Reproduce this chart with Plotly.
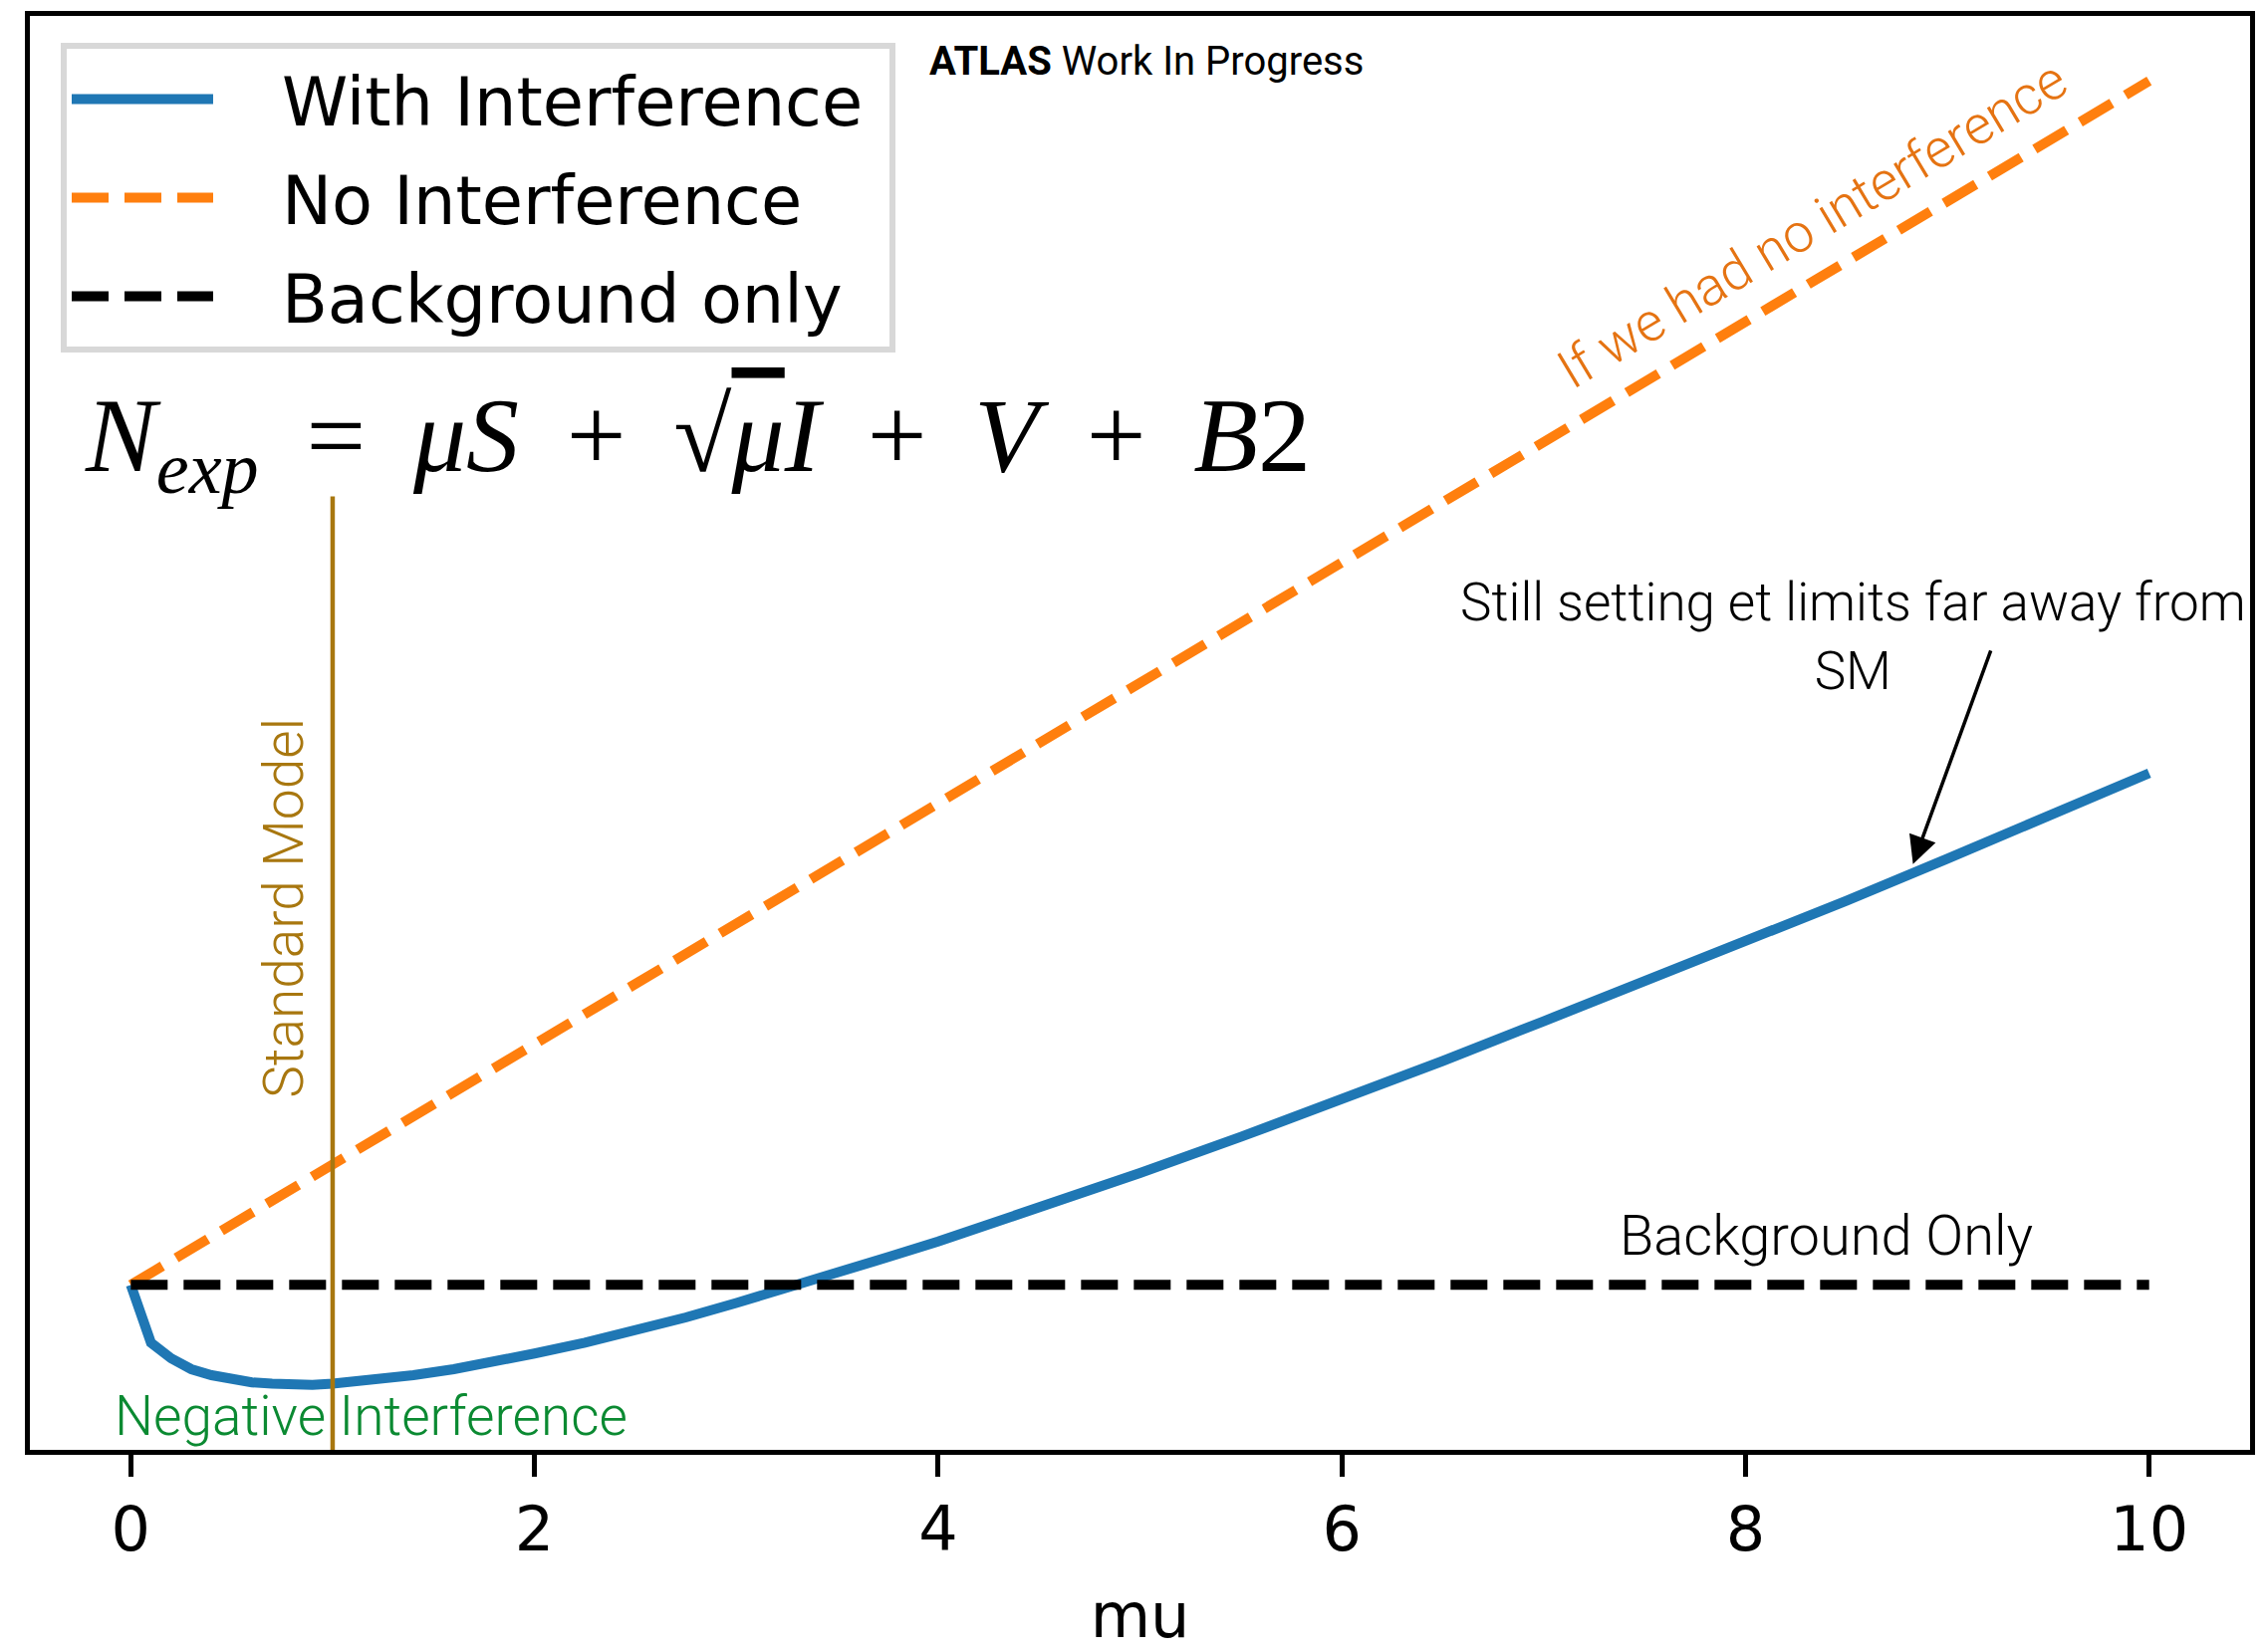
import plotly.graph_objects as go

# Signal strength scan and expected event yields (arbitrary units)
mu_vals = [0.0, 0.1, 0.2, 0.3, 0.4, 0.5, 0.6, 0.7, 0.8, 0.9, 1.0, 1.2, 1.4, 1.6,
           1.8, 2.0, 2.25, 2.5, 2.75, 3.0, 3.25, 3.5, 3.75, 4.0, 4.5, 5.0, 5.5,
           6.0, 6.5, 7.0, 7.5, 8.0, 8.5, 9.0, 9.5, 10.0]
with_interference = [100.0, 95.2, 93.9, 93.0, 92.5, 92.1, 91.9, 91.8, 91.7, 91.7,
                     91.8, 92.1, 92.5, 93.0, 93.6, 94.3, 95.2, 96.2, 97.3, 98.5,
                     99.7, 101.0, 102.3, 103.6, 106.4, 109.3, 112.3, 115.4, 118.6,
                     121.9, 125.2, 128.5, 131.9, 135.4, 138.9, 142.5]
mu_ends = [0.0, 10.0]
no_interference = [100.0, 200.0]
background_only = [100.0, 100.0]

sm_mu = 1.0
x_range = [-0.5, 10.5]
y_range = [86.3, 205.4]
x_ticks = [0, 2, 4, 6, 8, 10]

BLUE = "#1f77b4"
ORANGE = "#ff7f0e"
GOLD = "#a8770f"
GREEN = "#0b8a32"
LABEL_FONT = "Roboto, Liberation Sans, Arial, sans-serif"
NB = "\u00a0"

fig = go.Figure()
fig.add_trace(go.Scatter(x=mu_vals, y=with_interference, mode="lines",
                         name=NB * 3 + "With Interference" + NB, legendgroup="a",
                         line=dict(color=BLUE, width=10)))
fig.add_trace(go.Scatter(x=mu_ends, y=no_interference, mode="lines",
                         name=NB * 3 + "No Interference", legendgroup="b",
                         line=dict(color=ORANGE, width=10, dash="37px,16px")))
fig.add_trace(go.Scatter(x=mu_ends, y=background_only, mode="lines",
                         name=NB * 3 + "Background only", legendgroup="c",
                         line=dict(color="black", width=10, dash="37px,16px")))

# Standard Model reference (mu = 1)
fig.add_shape(type="line", xref="x", yref="paper", x0=sm_mu, x1=sm_mu, y0=0, y1=0.665,
              line=dict(color=GOLD, width=4.5), layer="above")

sp = NB + "\u2009"
formula = ("<i>N</i><sub><i>exp</i></sub>" + sp + "=" + sp + "<i>μS</i>" + sp + "+" + sp +
           "√<span style=\"text-decoration:overline\"><i>μ</i></span><i>I</i>" + sp + "+" + sp +
           "<i>V</i>" + sp + "+" + sp + "<i>B</i>2")

annotations = [
    dict(text="<b>ATLAS</b> Work In Progress", xref="paper", yref="paper",
         x=0.4042, y=0.9685, xanchor="left", yanchor="middle", showarrow=False,
         font=dict(family=LABEL_FONT, size=40, color="black")),
    dict(text=formula, xref="paper", yref="paper", x=0.0237, y=0.702, xanchor="left",
         yanchor="middle", showarrow=False,
         font=dict(family="Liberation Serif, serif", size=106, color="black")),
    dict(text="If we had no interference", xref="x", yref="y", x=8.33, y=188.1,
         xanchor="center", yanchor="middle", textangle=-31, showarrow=False,
         font=dict(family=LABEL_FONT, size=54, color="#e57312", weight=300)),
    dict(text="Standard Model", xref="x", yref="y", x=0.758, y=131.3,
         xanchor="center", yanchor="middle", textangle=-90, showarrow=False,
         font=dict(family=LABEL_FONT, size=55, color=GOLD, weight=300)),
    dict(text="Negative Interference", xref="x", yref="y", x=-0.09, y=89.1,
         xanchor="left", yanchor="middle", showarrow=False,
         font=dict(family=LABEL_FONT, size=55, color=GREEN, weight=300)),
    dict(text="Background Only", xref="x", yref="y", x=8.40, y=104.1,
         xanchor="center", yanchor="middle", showarrow=False,
         font=dict(family=LABEL_FONT, size=56, color="black", weight=300)),
    dict(text="Still setting et limits far away from<br>SM", xref="x", yref="y",
         x=8.533, y=153.8, xanchor="center", yanchor="middle", showarrow=False,
         font=dict(family=LABEL_FONT, size=53, color="black", weight=300)),
    dict(text="", xref="x", yref="y", x=8.83, y=134.95, axref="x", ayref="y",
         ax=9.218, ay=152.8, showarrow=True, arrowhead=2, arrowsize=1.6,
         arrowwidth=3.5, arrowcolor="black", standoff=0, startstandoff=0),
]

fig.update_layout(
    width=2275, height=1659,
    margin=dict(l=30, r=11, t=11, b=197),
    paper_bgcolor="white", plot_bgcolor="white",
    font=dict(family="DejaVu Sans, sans-serif", color="black"),
    showlegend=True,
    legend=dict(x=0.0139, y=0.981, xanchor="left", yanchor="top",
                bgcolor="white", bordercolor="#d8d8d8", borderwidth=6,
                font=dict(family="DejaVu Sans, sans-serif", size=67, color="black"),
                itemwidth=142, tracegroupgap=9, traceorder="grouped"),
    annotations=annotations,
    xaxis=dict(range=x_range, tickvals=x_ticks, ticktext=[str(t) for t in x_ticks],
               showgrid=False, zeroline=False, showline=True, mirror=True,
               linecolor="black", linewidth=5, ticks="outside", ticklen=22,
               tickwidth=5, tickcolor="black",
               tickfont=dict(family="DejaVu Sans, sans-serif", size=62),
               title=dict(text="mu", font=dict(family="DejaVu Sans, sans-serif", size=62),
                          standoff=32)),
    yaxis=dict(range=y_range, showgrid=False, zeroline=False, showline=True,
               mirror=True, linecolor="black", linewidth=5, ticks="",
               showticklabels=False),
)

fig.write_html("out.html")
